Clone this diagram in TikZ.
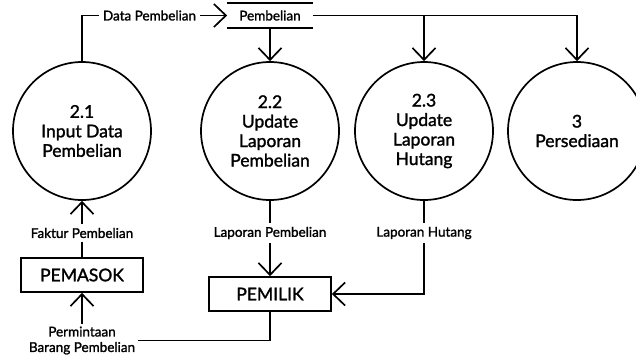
\documentclass[tikz,border=0pt]{standalone}
\usepackage{fontspec}
\setmainfont{Lato}
\newfontfamily\medfont{Lato}[FakeBold=1.5]
\usetikzlibrary{arrows.meta}
\begin{document}
\begin{tikzpicture}[x=1pt,y=-1pt,
  line width=1.7pt,
  arr/.style={-{Straight Barb[length=12pt,width=23pt,line width=1.7pt]}},
  proc/.style={draw,circle,minimum size=138pt,inner sep=0pt,align=center,font=\medfont\fontsize{17.5}{19.5}\selectfont},
  ent/.style={draw,rectangle,minimum width=122pt,minimum height=34pt,inner sep=0pt,font=\medfont\fontsize{17.5}{19}\selectfont},
  lbl/.style={inner sep=3pt,align=center,font=\medfont\fontsize{13.5}{15.5}\selectfont},
  store/.style={minimum width=84pt,minimum height=23pt,inner sep=0pt,font=\medfont\fontsize{13.5}{15}\selectfont}]
\clip (0,0) rectangle (636,360);
\node[proc] (c21) at (82,131) {2.1\\Input Data\\Pembelian};
\node[proc] (c22) at (270,131) {2.2\\Update\\Laporan\\Pembelian};
\node[proc] (c23) at (424,131) {2.3\\Update\\Laporan\\Hutang};
\node[proc] (c3) at (577,131) {3\\Persediaan};
\node[store] (st) at (270,15.5) {Pembelian};
\draw (st.north west) -- (st.north east);
\draw (st.south west) -- (st.south east);
\node[ent] (pemasok) at (82,275) {PEMASOK};
\node[ent] (pemilik) at (270,294) {PEMILIK};
\node[lbl] (ldata) at (149.5,15.5) {Data Pembelian};
\node[lbl] (lfak) at (82,233) {Faktur Pembelian};
\node[lbl] (llp) at (270,233) {Laporan Pembelian};
\node[lbl] (llh) at (424,233) {Laporan Hutang};
\node[lbl,inner sep=2pt] (lperm) at (82,340.5) {Permintaan\\Barang Pembelian};
\coordinate (j23) at (c23.north |- st.east);
\draw (c21.north) |- (ldata.west);
\draw[arr] (ldata.east) -- (st.west);
\draw[arr] (st.south) -- (c22.north);
\draw[arr] (st.east) -| (c3.north);
\draw[arr] (j23) -- (c23.north);
\draw (pemasok.north) -- (lfak.south);
\draw[arr] (lfak.north) -- (c21.south);
\draw[arr] (lperm.north) -- (pemasok.south);
\draw (lperm.east) -| (pemilik.south);
\draw (c22.south) -- (llp.north);
\draw[arr] (llp.south) -- (pemilik.north);
\draw (c23.south) -- (llh.north);
\draw[arr] (llh.south) |- (pemilik.east);
\end{tikzpicture}
\end{document}
